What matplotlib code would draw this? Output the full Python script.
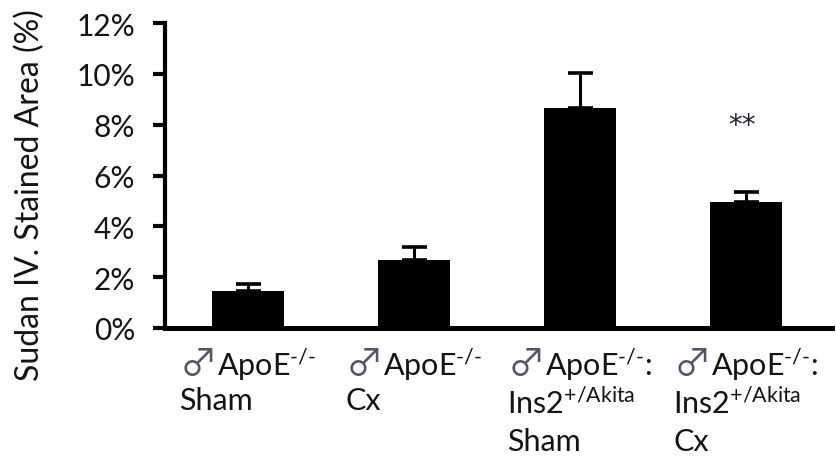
import matplotlib
matplotlib.use("Agg")
import matplotlib.pyplot as plt
from matplotlib.ticker import FuncFormatter
from matplotlib.offsetbox import TextArea, HPacker, VPacker, AnnotationBbox

plt.rcParams['font.family'] = ['Lato', 'DejaVu Sans']
plt.rcParams['mathtext.fontset'] = 'custom'
plt.rcParams['mathtext.rm'] = 'Lato'
plt.rcParams['mathtext.it'] = 'Lato:italic'
plt.rcParams['mathtext.bf'] = 'Lato:bold'

TEXT_COLOR = '#141414'

# Group labels: first line (after the male sign) and the remaining lines
label_heads = [
    "ApoE$^{\\text{-/-}}$",
    "ApoE$^{\\text{-/-}}$",
    "ApoE$^{\\text{-/-}}$:",
    "ApoE$^{\\text{-/-}}$:",
]
label_tails = [
    "Sham",
    "Cx",
    "Ins2$^{\\text{+/Akita}}$\nSham",
    "Ins2$^{\\text{+/Akita}}$\nCx",
]
# Sudan IV stained area (%), mean and SEM
means = [1.45, 2.68, 8.67, 4.97]
sems = [0.28, 0.51, 1.37, 0.37]
significance = ["", "", "", "**"]
yticks = [0, 2, 4, 6, 8, 10, 12]

fig = plt.figure(figsize=(8.37, 4.64), dpi=100)
ax = fig.add_axes([0.197, 0.291, 0.797, 0.657])

x = list(range(len(means)))
ax.bar(x, means, width=0.435, color='black', zorder=2)
ax.errorbar(x, means, yerr=[[0] * len(sems), sems], fmt='none',
            ecolor='black', elinewidth=2.2, capsize=9, capthick=2.6, zorder=1)

for xi, m, s, sig in zip(x, means, sems, significance):
    if sig:
        ax.text(xi - 0.02, 7.68, sig, ha='center', va='baseline', fontsize=20,
                family='DejaVu Sans', color='#222233')

ax.set_xlim(-0.5, 3.52)
ax.set_ylim(0, 12)
ax.set_yticks(yticks)
ax.yaxis.set_major_formatter(FuncFormatter(lambda v, p: f"{v:.0f}%"))
ax.tick_params(axis='y', direction='out', length=8.5, width=3.0, labelsize=21.5,
               pad=13, labelcolor=TEXT_COLOR)
ax.set_xticks([])

for side in ['top', 'right']:
    ax.spines[side].set_visible(False)
ax.spines['left'].set_linewidth(3.0)
ax.spines['bottom'].set_linewidth(3.6)

# Multi-line group labels, each block centred under its bar
for xi, head, tail in zip(x, label_heads, label_tails):
    sym = TextArea("♂", textprops=dict(family=['Noto Sans CJK JP', 'DejaVu Sans'],
                                       fontsize=27, color='#55556a'))
    head_t = TextArea(head, textprops=dict(fontsize=22, color=TEXT_COLOR))
    line1 = HPacker(children=[sym, head_t], align='baseline', pad=0, sep=0)
    tail_t = TextArea(tail, textprops=dict(fontsize=22, color=TEXT_COLOR,
                                           linespacing=1.42))
    block = VPacker(children=[line1, tail_t], align='left', pad=0, sep=2)
    ab = AnnotationBbox(block, (xi, 0), xycoords=('data', 'axes fraction'),
                        xybox=(0, -12), boxcoords='offset points',
                        box_alignment=(0.5, 1), frameon=False,
                        annotation_clip=False, pad=0)
    ax.add_artist(ab)

fig.text(0.036, 0.579, "Sudan IV. Stained Area (%)", rotation=90,
         ha='center', va='center', fontsize=23, color=TEXT_COLOR)

fig.savefig("out.png", dpi=100)
